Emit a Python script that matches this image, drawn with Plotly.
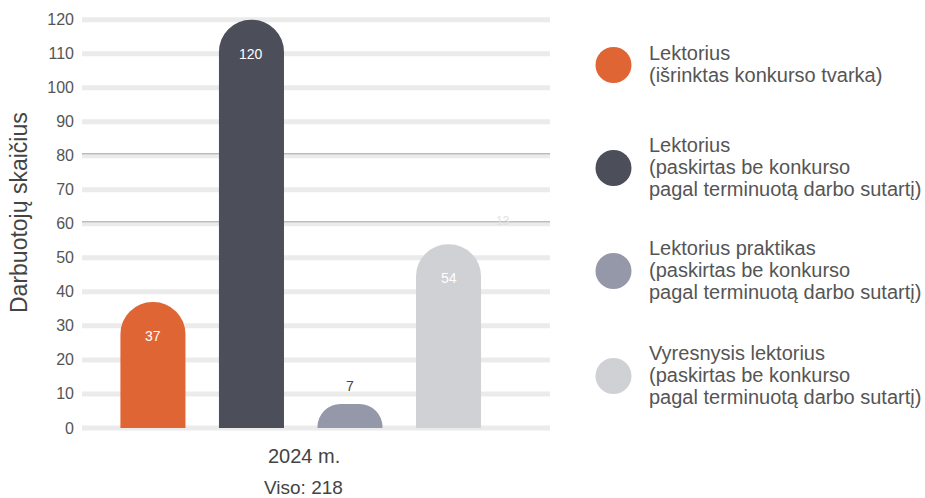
import plotly.graph_objects as go

# Employee counts by position type, 2024
legend_lines = [
    ["Lektorius", "(išrinktas konkurso tvarka)"],
    ["Lektorius", "(paskirtas be konkurso", "pagal terminuotą darbo sutartį)"],
    ["Lektorius praktikas", "(paskirtas be konkurso", "pagal terminuotą darbo sutartį)"],
    ["Vyresnysis lektorius", "(paskirtas be konkurso", "pagal terminuotą darbo sutartį)"],
]
values = [37, 120, 7, 54]
colors = ["#E06535", "#4C4E5A", "#9598A9", "#D0D1D5"]
label_colors = ["#FFFFFF", "#FFFFFF", "#444444", "#FFFFFF"]
year_label = "2024 m."
total_label = "Viso: 218"
y_title = "Darbuotojų skaičius"
y_ticks = list(range(0, 121, 10))

FONT = "Liberation Sans"
W, H = 925, 498
ML, MR, MT, MB = 82, 375, 13, 65
PW, PH = W - ML - MR, H - MT - MB


def px_x(px):
    return (px - ML) / PW


def px_y(py):
    return (H - MB - py) / PH


x_pos = list(range(len(values)))

fig = go.Figure()
fig.add_trace(go.Bar(
    x=x_pos, y=values, width=0.66,
    marker=dict(color=colors, line=dict(width=0)),
    hoverinfo="skip", showlegend=False,
))

annotations = []
for i, v in enumerate(values):
    inside = v > 20
    annotations.append(dict(
        x=i, y=v, xref="x", yref="y", text=str(v), showarrow=False,
        yanchor="middle", yshift=-34 if inside else 18,
        font=dict(size=14, color=label_colors[i], family=FONT),
    ))

annotations += [
    dict(x=1.53, y=px_y(456), xref="x", yref="paper", text=year_label,
         showarrow=False, yanchor="middle",
         font=dict(size=20, color="#444444", family=FONT)),
    dict(x=1.53, y=px_y(487), xref="x", yref="paper", text=total_label,
         showarrow=False, yanchor="middle",
         font=dict(size=19, color="#444444", family=FONT)),
    dict(x=px_x(512), y=px_y(221), xref="paper", yref="paper", text="13",
         showarrow=False, yanchor="middle",
         font=dict(size=12, color="#E2E2E2", family=FONT)),
    # vertical axis title
    dict(x=px_x(19), y=px_y(213), xref="paper", yref="paper", text=y_title,
         showarrow=False, textangle=-90, xanchor="center", yanchor="middle",
         font=dict(size=23, color="#444444", family=FONT)),
]

# horizontal grid bands
shapes = []
for t in y_ticks:
    shapes.append(dict(type="line", xref="paper", yref="y", x0=0, x1=1,
                       y0=t, y1=t, line=dict(color="#EBEBEB", width=5),
                       layer="below"))
# thin rules over the grid at 80 and 60
for yv in (80.6, 60.6):
    shapes.append(dict(type="line", xref="paper", yref="y", x0=0, x1=1,
                       y0=yv, y1=yv, line=dict(color="#A5A5A5", width=1),
                       layer="below"))

# legend: circle markers and wrapped labels
legend_y = [64, 167, 270, 375]
LINE_H = 22
for c, lines, ly in zip(colors, legend_lines, legend_y):
    shapes.append(dict(type="circle", xref="paper", yref="paper",
                       xsizemode="pixel", ysizemode="pixel",
                       xanchor=px_x(613.5), yanchor=px_y(ly + 1),
                       x0=-18, x1=18, y0=-18, y1=18,
                       fillcolor=c, line=dict(width=0)))
    n = len(lines)
    for k, line in enumerate(lines):
        cy = ly + (k - (n - 1) / 2) * LINE_H
        annotations.append(dict(x=px_x(647), y=px_y(cy), xref="paper", yref="paper",
                                text=line, showarrow=False, xanchor="left",
                                yanchor="middle", align="left",
                                font=dict(size=20, color="#555555", family=FONT)))

fig.update_layout(
    width=W, height=H,
    margin=dict(l=ML, r=MR, t=MT, b=MB, pad=0),
    paper_bgcolor="white", plot_bgcolor="white",
    barcornerradius="50%",
    xaxis=dict(range=[-0.72, 4.03], showticklabels=False, showgrid=False,
               zeroline=False, showline=False, ticks=""),
    yaxis=dict(range=[-1.5, 122], tickvals=y_ticks, showgrid=False,
               zeroline=False, showline=False,
               ticks="", ticklabelstandoff=7,
               tickfont=dict(size=16, color="#555555", family=FONT)),
    annotations=annotations, shapes=shapes,
    font=dict(family=FONT),
)

fig.write_html("out.html")
